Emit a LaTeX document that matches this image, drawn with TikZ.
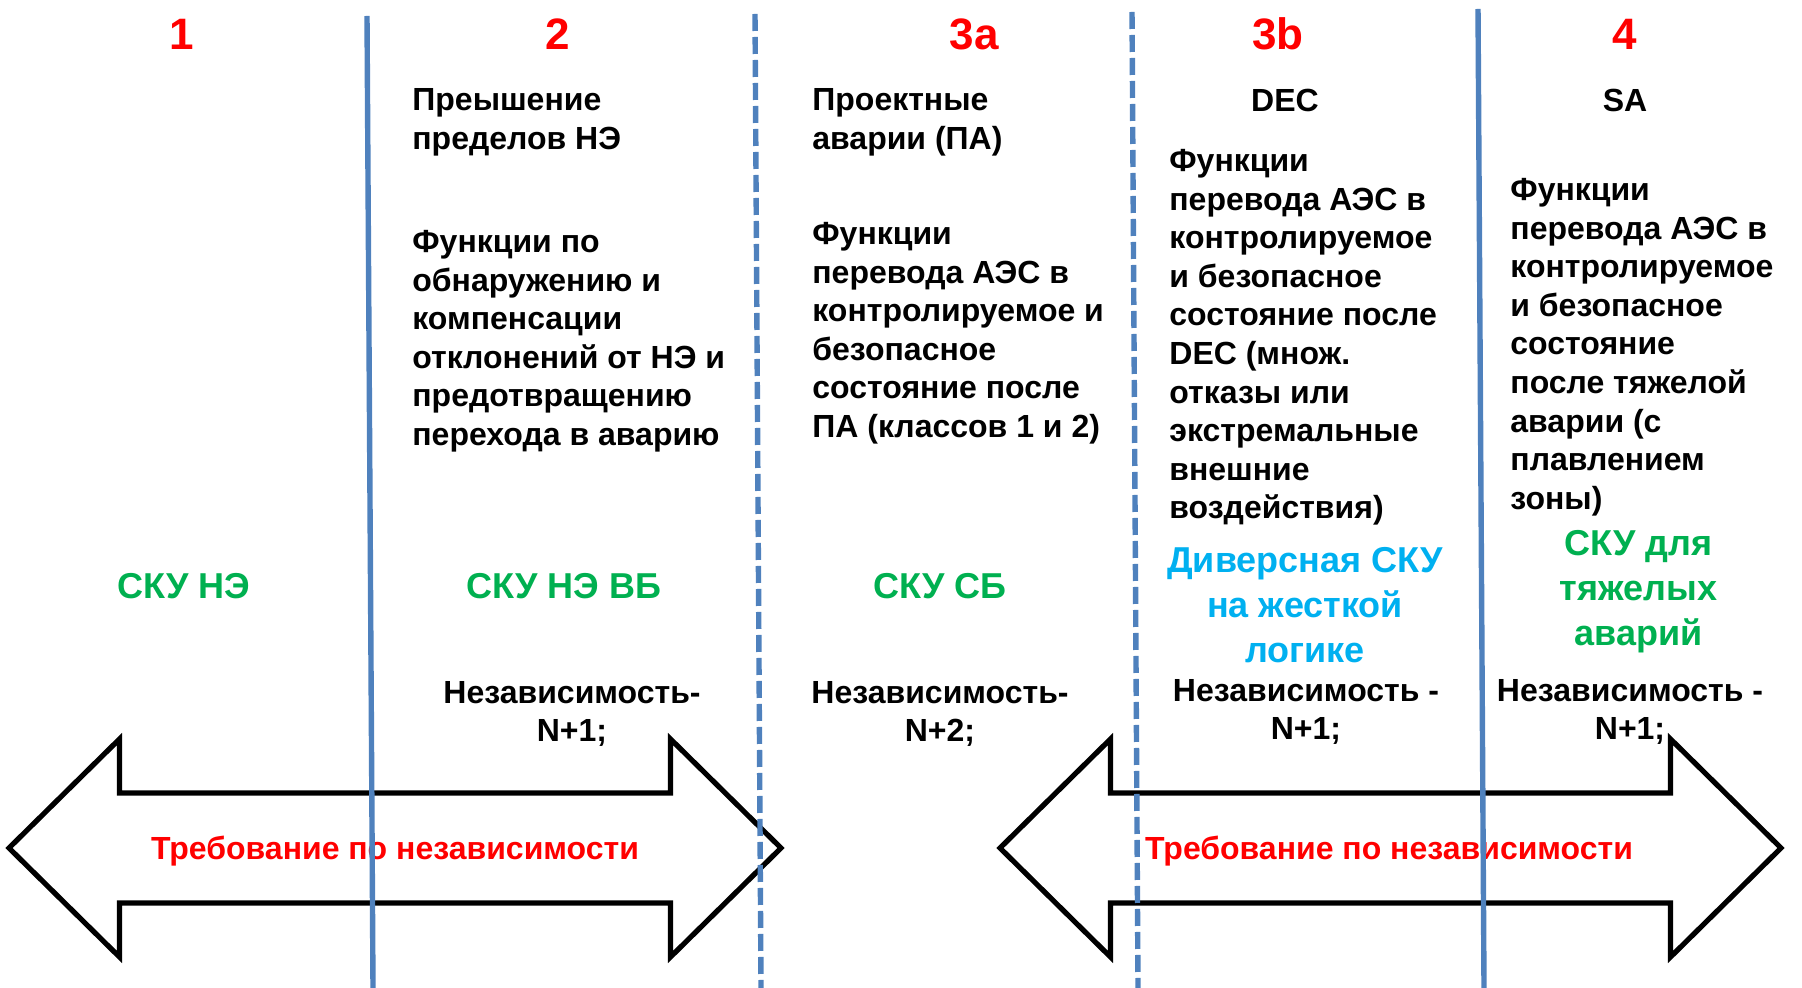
\documentclass[tikz,border=0pt]{standalone}
\usepackage{fontspec}
\setmainfont{Liberation Sans}
\definecolor{sepblue}{HTML}{4F81BD}
\definecolor{skugreen}{HTML}{00B050}
\definecolor{skucyan}{HTML}{00B0F0}
\begin{document}
\begin{tikzpicture}[x=0.5pt,y=-0.5pt,
  every node/.style={inner sep=0pt},
  num/.style={font=\bfseries\fontsize{22}{26}\selectfont,text=red},
  txt/.style={font=\bfseries\fontsize{16}{19.3}\selectfont,align=left,anchor=north west},
  head/.style={font=\bfseries\fontsize{16}{19.3}\selectfont},
  sku/.style={font=\bfseries\fontsize{18}{22.4}\selectfont,align=center,text=skugreen},
  indep/.style={font=\bfseries\fontsize{16}{19}\selectfont,align=center},
  req/.style={font=\bfseries\fontsize{16}{19}\selectfont,text=red},
  bigarrow/.style={draw=black,line width=2.6pt,line join=miter},
  sep/.style={draw=sepblue,line width=2.7pt},
  sepdash/.style={sep,dash pattern=on 8.5pt off 3pt}]
\useasboundingbox (0,0) rectangle (1802,988);
% double arrows
\foreach \cx/\hl in {395/386,1390.5/390.5}
  \draw[bigarrow,shift={(\cx,848)}] (-\hl,0) -- (-\hl+110.5,-109) -- (-\hl+110.5,-55)
    -- (\hl-110.5,-55) -- (\hl-110.5,-109) -- (\hl,0) -- (\hl-110.5,109)
    -- (\hl-110.5,55) -- (-\hl+110.5,55) -- (-\hl+110.5,109) -- cycle;
\node[req] (req1) at (395,851.5) {Требование по независимости};
\node[req] (req2) at (1389,851.5) {Требование по независимости};
% column numbers
\node[num] (n1) at (181.5,34) {1};
\node[num] (n2) at (558,34) {2};
\node[num] (n3a) at (974,34) {3a};
\node[num] (n3b) at (1278,34) {3b};
\node[num] (n4) at (1625,34) {4};
% column texts
\node[txt] (t2a) at (412,88.5) {Преышение\\пределов НЭ};
\node[txt] (t2b) at (412,230) {Функции по\\обнаружению и\\компенсации\\отклонений от НЭ и\\предотвращению\\перехода в аварию};
\node[txt] (t3a) at (812,88.5) {Проектные\\аварии (ПА)};
\node[txt] (t3b) at (812,222) {Функции\\перевода АЭС в\\контролируемое и\\безопасное\\состояние после\\ПА (классов 1 и 2)};
\node[head] (dec) at (1285,100) {DEC};
\node[txt] (t3c) at (1169,149) {Функции\\перевода АЭС в\\контролируемое\\и безопасное\\состояние после\\DEC (множ.\\отказы или\\экстремальные\\внешние\\воздействия)};
\node[head] (sa) at (1625,100) {SA};
\node[txt] (t4) at (1510,178) {Функции\\перевода АЭС в\\контролируемое\\и безопасное\\состояние\\после тяжелой\\аварии (с\\плавлением\\зоны)};
% control systems
\node[sku] (k1) at (184,586) {СКУ НЭ};
\node[sku] (k2) at (564,586) {СКУ НЭ ВБ};
\node[sku] (k3a) at (940,586) {СКУ СБ};
\node[sku,text=skucyan] (k3b) at (1305,605) {Диверсная СКУ\\на жесткой\\логике};
\node[sku] (k4) at (1638.5,591.5) {СКУ для\\тяжелых\\аварий};
% independence
\node[indep] (i2) at (572,714) {Независимость-\\N+1;};
\node[indep] (i3a) at (940,714) {Независимость-\\N+2;};
\node[indep] (i3b) at (1306,711.5) {Независимость -\\N+1;};
\node[indep] (i4) at (1630,711.5) {Независимость -\\N+1;};
% separators
\coordinate (s1t) at (367,16);   \coordinate (s1b) at (373,988);
\coordinate (s2t) at (755,14);   \coordinate (s2b) at (761,988);
\coordinate (s3t) at (1132,12);  \coordinate (s3b) at (1138,988);
\coordinate (s4t) at (1478,9);   \coordinate (s4b) at (1484,988);
\draw[sep] (s1t) -- (s1b);
\draw[sepdash] (s2t) -- (s2b);
\draw[sepdash] (s3t) -- (s3b);
\draw[sep] (s4t) -- (s4b);
\end{tikzpicture}
\end{document}
